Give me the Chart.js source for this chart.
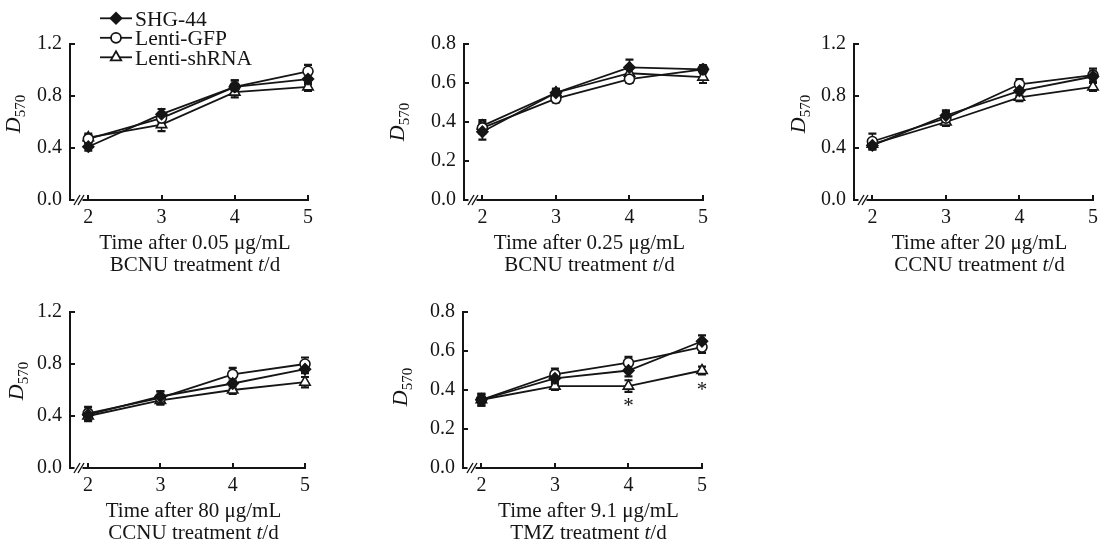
<!DOCTYPE html>
<html>
<head>
<meta charset="utf-8">
<title>D570 after drug treatment</title>
<script src="https://cdn.jsdelivr.net/npm/chart.js@4.4.0/dist/chart.umd.min.js"></script>
<style>
 body { margin: 0; width: 1108px; height: 541px; overflow: hidden; background: #fff; position: relative; }
 canvas { position: absolute; }
</style>
</head>
<body>
<script>
var days = [2, 3, 4, 5];
var seriesNames = ["SHG-44", "Lenti-GFP", "Lenti-shRNA"];
var yTicksWide = [0, 0.4, 0.8, 1.2];
var yTicksNarrow = [0, 0.2, 0.4, 0.6, 0.8];

// 0.05 ug/mL BCNU
var bcnuLowShg = [0.41, 0.66, 0.87, 0.93];
var bcnuLowGfp = [0.47, 0.63, 0.87, 0.99];
var bcnuLowSh = [0.48, 0.58, 0.83, 0.87];
var bcnuLowShgErr = [0.03, 0.04, 0.05, 0.04];
var bcnuLowGfpErr = [0.03, 0.04, 0.05, 0.05];
var bcnuLowShErr = [0.03, 0.05, 0.04, 0.03];

// 0.25 ug/mL BCNU
var bcnuHighShg = [0.35, 0.55, 0.68, 0.67];
var bcnuHighGfp = [0.37, 0.52, 0.62, 0.67];
var bcnuHighSh = [0.38, 0.55, 0.65, 0.63];
var bcnuHighShgErr = [0.04, 0.02, 0.04, 0.02];
var bcnuHighGfpErr = [0.03, 0.02, 0.02, 0.02];
var bcnuHighShErr = [0.03, 0.02, 0.03, 0.03];

// 20 ug/mL CCNU
var ccnuLowShg = [0.42, 0.65, 0.84, 0.95];
var ccnuLowGfp = [0.45, 0.63, 0.89, 0.96];
var ccnuLowSh = [0.43, 0.60, 0.79, 0.87];
var ccnuLowShgErr = [0.03, 0.04, 0.04, 0.04];
var ccnuLowGfpErr = [0.06, 0.05, 0.04, 0.05];
var ccnuLowShErr = [0.03, 0.03, 0.03, 0.03];

// 80 ug/mL CCNU
var ccnuHighShg = [0.41, 0.55, 0.65, 0.76];
var ccnuHighGfp = [0.42, 0.54, 0.72, 0.80];
var ccnuHighSh = [0.40, 0.52, 0.60, 0.66];
var ccnuHighShgErr = [0.04, 0.04, 0.04, 0.03];
var ccnuHighGfpErr = [0.05, 0.05, 0.05, 0.05];
var ccnuHighShErr = [0.04, 0.03, 0.03, 0.04];

// 9.1 ug/mL TMZ
var tmzShg = [0.35, 0.46, 0.50, 0.65];
var tmzGfp = [0.35, 0.48, 0.54, 0.62];
var tmzSh = [0.35, 0.42, 0.42, 0.50];
var tmzShgErr = [0.03, 0.03, 0.03, 0.03];
var tmzGfpErr = [0.03, 0.03, 0.03, 0.03];
var tmzShErr = [0.02, 0.02, 0.03, 0.02];
var tmzStars = [null, null, 0.34, 0.42];

var ink = "#151515";
var serif = "'Liberation Serif', 'Times New Roman', serif";
var pointStyles = ["rectRot", "circle", "triangle"];
var pointRadii = [5.5, 5, 6];
var pointFills = [ink, "#fff", "#fff"];

// axisX / axisTop: where the y axis and its top tick sit on the page
var panels = [
 { axisX: 70, axisTop: 44, plotW: 238, yMax: 1.2, yTicks: yTicksWide,
  dose: "0.05", drug: "BCNU", values: [bcnuLowShg, bcnuLowGfp, bcnuLowSh],
  errors: [bcnuLowShgErr, bcnuLowGfpErr, bcnuLowShErr], stars: null, legend: true,
  labelDx: -50, labelDy: -8 },
 { axisX: 464, axisTop: 44, plotW: 239, yMax: 0.8, yTicks: yTicksNarrow,
  dose: "0.25", drug: "BCNU", values: [bcnuHighShg, bcnuHighGfp, bcnuHighSh],
  errors: [bcnuHighShgErr, bcnuHighGfpErr, bcnuHighShErr], stars: null, legend: false,
  labelDx: -60, labelDy: 0 },
 { axisX: 854, axisTop: 44, plotW: 239, yMax: 1.2, yTicks: yTicksWide,
  dose: "20", drug: "CCNU", values: [ccnuLowShg, ccnuLowGfp, ccnuLowSh],
  errors: [ccnuLowShgErr, ccnuLowGfpErr, ccnuLowShErr], stars: null, legend: false,
  labelDx: -49, labelDy: -8 },
 { axisX: 70, axisTop: 312, plotW: 235, yMax: 1.2, yTicks: yTicksWide,
  dose: "80", drug: "CCNU", values: [ccnuHighShg, ccnuHighGfp, ccnuHighSh],
  errors: [ccnuHighShgErr, ccnuHighGfpErr, ccnuHighShErr], stars: null, legend: false,
  labelDx: -47, labelDy: -9 },
 { axisX: 463, axisTop: 312, plotW: 239, yMax: 0.8, yTicks: yTicksNarrow,
  dose: "9.1", drug: "TMZ", values: [tmzShg, tmzGfp, tmzSh],
  errors: [tmzShgErr, tmzGfpErr, tmzShErr], stars: tmzStars, legend: false,
  labelDx: -56, labelDy: -3 }
];

var canvasW = 350;
var canvasH = 280;
var padLeft = 20;
var padTop = 44;

function drawErrorBars(chart, panel) {
 var ctx = chart.ctx;
 var xs = chart.scales.x;
 var ys = chart.scales.y;
 ctx.save();
 ctx.strokeStyle = ink;
 panel.errors.forEach(function (errs, s) {
  var vals = panel.values[s];
  days.forEach(function (d, i) {
   var px = xs.getPixelForValue(d);
   var hi = ys.getPixelForValue(vals[i] + errs[i]);
   var lo = ys.getPixelForValue(vals[i] - errs[i]);
   ctx.lineWidth = 1.5;
   ctx.beginPath();
   ctx.moveTo(px, hi);
   ctx.lineTo(px, lo);
   ctx.stroke();
   ctx.lineWidth = 2.2;
   ctx.beginPath();
   ctx.moveTo(px - 4, hi);
   ctx.lineTo(px + 4, hi);
   ctx.moveTo(px - 4, lo);
   ctx.lineTo(px + 4, lo);
   ctx.stroke();
  });
 });
 ctx.restore();
}

function drawDecor(chart, panel) {
 var ctx = chart.ctx;
 var area = chart.chartArea;
 var xs = chart.scales.x;
 var ys = chart.scales.y;

 ctx.save();
 ctx.strokeStyle = ink;
 ctx.fillStyle = ink;

 // inward tick marks
 ctx.lineWidth = 2;
 ctx.beginPath();
 days.forEach(function (d) {
  var px = Math.round(xs.getPixelForValue(d));
  ctx.moveTo(px, area.bottom);
  ctx.lineTo(px, area.bottom - 5);
 });
 panel.yTicks.forEach(function (v) {
  var py = Math.round(ys.getPixelForValue(v));
  ctx.moveTo(area.left, py);
  ctx.lineTo(area.left + 5, py);
 });
 ctx.stroke();

 // axis break on the x axis
 ctx.fillStyle = "#fff";
 ctx.fillRect(area.left + 4.5, area.bottom - 3, 8, 6);
 ctx.lineWidth = 1.4;
 ctx.beginPath();
 ctx.moveTo(area.left + 4, area.bottom + 5);
 ctx.lineTo(area.left + 10, area.bottom - 5);
 ctx.moveTo(area.left + 8, area.bottom + 5);
 ctx.lineTo(area.left + 14, area.bottom - 5);
 ctx.stroke();
 ctx.fillStyle = ink;

 // y title: D570
 ctx.save();
 ctx.translate(area.left + panel.labelDx, (area.top + area.bottom) / 2 + panel.labelDy);
 ctx.rotate(-Math.PI / 2);
 ctx.textBaseline = "alphabetic";
 ctx.textAlign = "left";
 ctx.font = "italic 22px " + serif;
 var wD = ctx.measureText("D").width;
 ctx.font = "15px " + serif;
 var wS = ctx.measureText("570").width;
 var x0 = -(wD + wS) / 2;
 ctx.font = "italic 22px " + serif;
 ctx.fillText("D", x0, 0);
 ctx.font = "15px " + serif;
 ctx.fillText("570", x0 + wD, 5);
 ctx.restore();

 // x title, two lines, italic t
 var cx = (area.left + area.right) / 2 + 6;
 var titleFont = "21px " + serif;
 var titleItalic = "italic 21px " + serif;
 ctx.textBaseline = "alphabetic";
 ctx.textAlign = "left";
 ctx.font = titleFont;
 var line1 = "Time after " + panel.dose + " μg/mL";
 var w1 = ctx.measureText(line1).width;
 ctx.fillText(line1, cx - w1 / 2, area.bottom + 49);
 var partA = panel.drug + " treatment ";
 var partC = "/d";
 var wA = ctx.measureText(partA).width;
 var wC = ctx.measureText(partC).width;
 ctx.font = titleItalic;
 var wB = ctx.measureText("t").width;
 var x2 = cx - (wA + wB + wC) / 2;
 ctx.font = titleFont;
 ctx.fillText(partA, x2, area.bottom + 71);
 ctx.font = titleItalic;
 ctx.fillText("t", x2 + wA, area.bottom + 71);
 ctx.font = titleFont;
 ctx.fillText(partC, x2 + wA + wB, area.bottom + 71);

 // significance marks
 if (panel.stars) {
  ctx.font = "21px " + serif;
  ctx.textAlign = "center";
  panel.stars.forEach(function (v, i) {
   if (v === null) return;
   ctx.fillText("*", xs.getPixelForValue(days[i]), ys.getPixelForValue(v) + 10);
  });
 }

 // legend
 if (panel.legend) {
  ctx.textAlign = "left";
  ctx.font = "21.5px " + serif;
  seriesNames.forEach(function (name, s) {
   var ly = 18.3 + s * 19.5;
   var lx = area.left + 30;
   ctx.lineWidth = 1.8;
   ctx.strokeStyle = ink;
   ctx.beginPath();
   ctx.moveTo(lx, ly);
   ctx.lineTo(lx + 32, ly);
   ctx.stroke();
   ctx.fillStyle = pointFills[s];
   Chart.helpers.drawPoint(ctx, {
    pointStyle: pointStyles[s],
    radius: pointRadii[s],
    borderWidth: 1.6,
    rotation: 0
   }, lx + 16, ly);
   ctx.fillStyle = ink;
   ctx.fillText(name, lx + 35, ly + 7.5);
  });
 }
 ctx.restore();
}

function buildPanel(panel) {
 var canvas = document.createElement("canvas");
 canvas.width = canvasW;
 canvas.height = canvasH;
 canvas.style.left = (panel.axisX - 70 - padLeft) + "px";
 canvas.style.top = (panel.axisTop - padTop) + "px";
 document.body.appendChild(canvas);

 var datasets = seriesNames.map(function (name, s) {
  return {
   label: name,
   data: days.map(function (d, i) {
    return { x: d, y: panel.values[s][i] };
   }),
   borderColor: ink,
   borderWidth: 1.8,
   backgroundColor: pointFills[s],
   pointStyle: pointStyles[s],
   pointRadius: pointRadii[s],
   pointBorderWidth: 1.6,
   pointBorderColor: ink,
   pointBackgroundColor: pointFills[s],
   tension: 0,
   clip: false
  };
 });

 new Chart(canvas, {
  type: "line",
  data: { datasets: datasets },
  options: {
   responsive: false,
   animation: false,
   events: [],
   layout: { padding: { top: padTop, left: padLeft, right: canvasW - padLeft - 70 - panel.plotW, bottom: 0 } },
   plugins: {
    legend: { display: false },
    tooltip: { enabled: false }
   },
   scales: {
    x: {
     type: "linear",
     min: 1.75,
     max: 5,
     afterFit: function (scale) { scale.height = 80; },
     afterBuildTicks: function (scale) {
      scale.ticks = days.map(function (d) { return { value: d }; });
     },
     grid: { display: false, drawTicks: false },
     border: { display: true, color: ink, width: 2 },
     ticks: {
      padding: 6,
      color: ink,
      font: { family: serif, size: 20 },
      callback: function (v) { return String(v); }
     }
    },
    y: {
     min: 0,
     max: panel.yMax,
     afterFit: function (scale) { scale.width = 70; },
     afterBuildTicks: function (scale) {
      scale.ticks = panel.yTicks.map(function (v) { return { value: v }; });
     },
     grid: { display: false, drawTicks: false },
     border: { display: true, color: ink, width: 2 },
     ticks: {
      padding: 8,
      color: ink,
      font: { family: serif, size: 20 },
      callback: function (v) { return v.toFixed(1); }
     }
    }
   }
  },
  plugins: [{
   id: "figureDecor",
   beforeDatasetsDraw: function (chart) { drawErrorBars(chart, panel); },
   afterDraw: function (chart) { drawDecor(chart, panel); }
  }]
 });
}

panels.forEach(buildPanel);
</script>
</body>
</html>
